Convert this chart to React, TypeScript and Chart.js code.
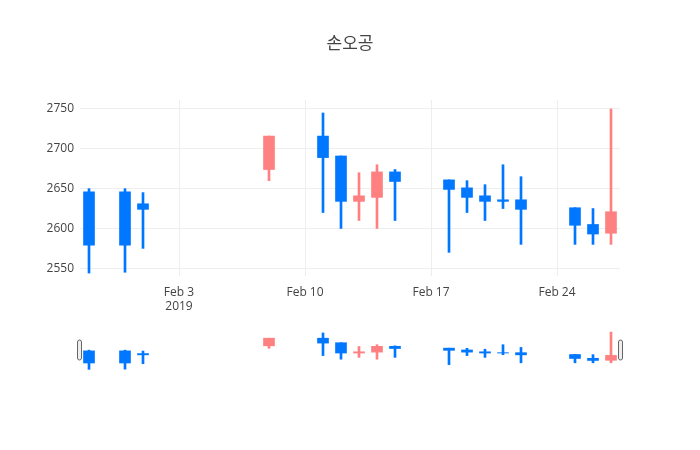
import React, { useEffect, useRef } from "react";
import { Chart, registerables } from "chart.js";
Chart.register(...registerables);

const chartTitle = "손오공";
const dates = [
  "2019-01-29", "2019-01-31", "2019-02-01", "2019-02-08", "2019-02-11", "2019-02-12",
  "2019-02-13", "2019-02-14", "2019-02-15", "2019-02-18", "2019-02-19", "2019-02-20",
  "2019-02-21", "2019-02-22", "2019-02-25", "2019-02-26", "2019-02-27",
];
const openVals = [2646, 2646, 2631, 2674, 2716, 2691, 2634, 2639, 2671, 2661, 2651, 2641, 2636, 2636, 2626, 2605, 2594];
const highVals = [2650, 2650, 2645, 2716, 2745, 2691, 2670, 2680, 2674, 2661, 2660, 2655, 2680, 2665, 2626, 2625, 2750];
const lowVals = [2544, 2545, 2575, 2660, 2620, 2600, 2610, 2600, 2610, 2570, 2620, 2610, 2625, 2580, 2580, 2580, 2580];
const closeVals = [2579, 2579, 2624, 2716, 2689, 2634, 2641, 2671, 2659, 2649, 2639, 2634, 2634, 2624, 2604, 2593, 2621];

const xTickDates = ["2019-02-03", "2019-02-10", "2019-02-17", "2019-02-24"];
const xTickLabels: (string | string[])[] = [["Feb 3", "2019"], "Feb 10", "Feb 17", "Feb 24"];
const xRange = ["2019-01-28T12:00:00Z", "2019-02-27T12:00:00Z"];
const yTicks = [2550, 2600, 2650, 2700, 2750];
const yRange = [2540.3, 2761.3];

const UP = "#FF8080";
const DOWN = "#0077FF";
const FONT = "'Open Sans', 'Noto Sans CJK KR', sans-serif";
const BASE = Date.parse("2019-02-03T00:00:00Z");
const dayNum = (d: string) => (Date.parse(d.length === 10 ? d + "T00:00:00Z" : d) - BASE) / 86400000;

function buildDatasets(withAxis: boolean) {
  const colors = dates.map((_, i) => (closeVals[i] >= openVals[i] ? UP : DOWN));
  const body = dates.map((d, i) => ({ x: dayNum(d), y: [openVals[i], closeVals[i]] }));
  const wick = dates.map((d, i) => ({ x: dayNum(d), y: [lowVals[i], highVals[i]] }));
  const extra = withAxis ? { yAxisID: "y" } : {};
  return [
    { type: "bar", data: body, backgroundColor: colors, borderWidth: 0, barThickness: 11, grouped: false, borderSkipped: false, ...extra },
    { type: "bar", data: wick, backgroundColor: colors, borderWidth: 0, barThickness: 2, grouped: false, borderSkipped: false, ...extra },
  ];
}

const handlesPlugin = {
  id: "handles",
  afterDraw(chart: any) {
    const { ctx, chartArea: a } = chart;
    const h = a.bottom - a.top;
    const y = a.top + h / 4;
    const hh = h / 2;
    ctx.save();
    ctx.fillStyle = "#eee";
    ctx.strokeStyle = "#666";
    ctx.lineWidth = 1;
    for (const x of [a.left - 2.5, a.right - 1.5]) {
      ctx.beginPath();
      (ctx as any).roundRect(x, y, 4, hh, 2);
      ctx.fill();
      ctx.stroke();
    }
    ctx.restore();
  },
};

export default function App() {
  const mainRef = useRef<HTMLCanvasElement>(null);
  const sliderRef = useRef<HTMLCanvasElement>(null);

  useEffect(() => {
    const xTickVals = xTickDates.map(dayNum);
    const main = new Chart(mainRef.current as HTMLCanvasElement, {
      type: "bar",
      data: { datasets: buildDatasets(true) as any },
      options: {
        responsive: false,
        animation: false,
        events: [],
        layout: { padding: 0 },
        plugins: {
          legend: { display: false },
          tooltip: { enabled: false },
          title: {
            display: true,
            text: chartTitle,
            color: "#444",
            font: { family: FONT, size: 17, weight: "normal" },
            padding: { top: 33.5, bottom: 46.1 },
          },
        },
        scales: {
          x: {
            type: "linear",
            offset: false,
            min: dayNum(xRange[0]),
            max: dayNum(xRange[1]),
            grid: { color: "#eee", drawTicks: false, offset: false },
            border: { display: false },
            afterBuildTicks: (s: any) => {
              s.ticks = xTickVals.map((v) => ({ value: v }));
            },
            afterFit: (s: any) => {
              s.height = 44;
            },
            ticks: {
              autoSkip: false,
              maxRotation: 0,
              padding: 9,
              color: "#444",
              font: { family: FONT, size: 12 },
              callback: (v: any) => {
                const idx = xTickVals.indexOf(Number(v));
                return idx >= 0 ? xTickLabels[idx] : "";
              },
            },
          },
          y: {
            type: "linear",
            position: "left",
            beginAtZero: false,
            min: yRange[0],
            max: yRange[1],
            grid: { color: "#eee", drawTicks: false },
            border: { display: false },
            afterBuildTicks: (s: any) => {
              s.ticks = yTicks.map((v) => ({ value: v }));
            },
            afterFit: (s: any) => {
              s.width = 80;
            },
            ticks: {
              padding: 6,
              color: "#444",
              font: { family: FONT, size: 12 },
              callback: (v: any) => String(v),
            },
          },
          yRightMargin: {
            type: "linear",
            position: "right",
            min: yRange[0],
            max: yRange[1],
            grid: { display: false, drawTicks: false },
            border: { display: false },
            ticks: { display: false },
            afterFit: (s: any) => {
              s.width = 80;
            },
          },
        },
      } as any,
    });

    const slider = new Chart(sliderRef.current as HTMLCanvasElement, {
      type: "bar",
      data: { datasets: buildDatasets(false) as any },
      options: {
        responsive: false,
        animation: false,
        events: [],
        layout: { padding: { left: 80, right: 80, top: 10, bottom: 10 } },
        plugins: { legend: { display: false }, tooltip: { enabled: false }, title: { display: false } },
        scales: {
          x: { type: "linear", display: false, offset: false, min: dayNum(xRange[0]), max: dayNum(xRange[1]), grid: { offset: false } },
          y: { type: "linear", display: false, beginAtZero: false, min: yRange[0], max: yRange[1] },
        },
      } as any,
      plugins: [handlesPlugin],
    });

    return () => {
      main.destroy();
      slider.destroy();
    };
  }, []);

  return (
    <div style={{ position: "absolute", left: 0, top: 0, width: 700, height: 450, background: "#fff" }}>
      <canvas ref={mainRef} width={700} height={320} style={{ position: "absolute", left: 0, top: 0 }} />
      <canvas ref={sliderRef} width={700} height={60} style={{ position: "absolute", left: 0, top: 320 }} />
    </div>
  );
}
